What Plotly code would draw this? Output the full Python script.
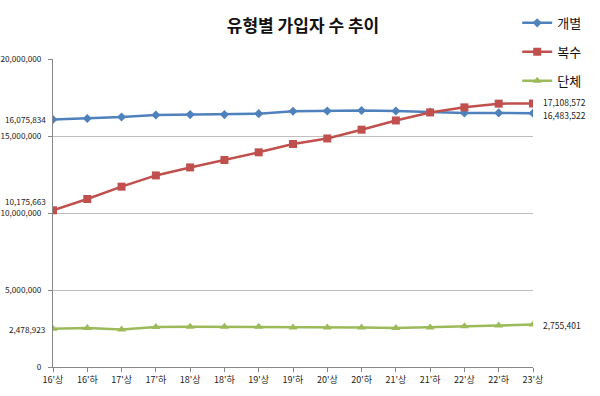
import plotly.graph_objects as go

categories = ["16'상", "16'하", "17'상", "17'하", "18'상", "18'하", "19'상", "19'하",
              "20'상", "20'하", "21'상", "21'하", "22'상", "22'하", "23'상"]
individual = [16075834, 16140000, 16230000, 16360000, 16390000, 16390000, 16450000, 16610000,
              16620000, 16660000, 16620000, 16560000, 16500000, 16500000, 16483522]
multiple = [10175663, 10910000, 11710000, 12440000, 12960000, 13440000, 13940000, 14480000,
            14840000, 15410000, 16010000, 16530000, 16860000, 17100000, 17108572]
group = [2478923, 2540000, 2430000, 2600000, 2610000, 2610000, 2610000, 2570000,
         2570000, 2570000, 2530000, 2570000, 2650000, 2690000, 2755401]
series_names = ["개별", "복수", "단체"]
y_ticks = [0, 5000000, 10000000, 15000000, 20000000]

FONT = "Noto Sans CJK KR"
colors = ["#4F81BD", "#C0504D", "#9BBB59"]
symbols = ["diamond", "square", "triangle-up"]
sizes = [7, 8, 8]

fig = go.Figure()
for i, (name, vals) in enumerate(zip(series_names, [individual, multiple, group])):
    fig.add_trace(go.Scatter(
        x=list(range(len(categories))), y=vals, name=name, mode="lines+markers",
        legendgroup=name,
        line=dict(color=colors[i], width=2.5),
        marker=dict(symbol=symbols[i], size=sizes[i], color=colors[i]),
    ))

# data labels for first and last points
for vals, ys_first, ys_last in [(individual, 0, -2), (multiple, 9, 2), (group, 0, 0)]:
    fig.add_annotation(x=0, y=vals[0], xref="x", yref="y", text=f"{vals[0]:,}",
                       showarrow=False, xanchor="right", xshift=-5, yshift=ys_first,
                       font=dict(family=FONT, size=8.2, color="#222"))
    fig.add_annotation(x=len(categories) - 1, y=vals[-1], xref="x", yref="y",
                       text=f"{vals[-1]:,}", showarrow=False, xanchor="left",
                       xshift=8, yshift=ys_last,
                       font=dict(family=FONT, size=8.5, color="#222"))

fig.update_layout(
    width=600, height=396,
    margin=dict(l=53, r=67, t=59, b=29, autoexpand=False),
    paper_bgcolor="white", plot_bgcolor="white",
    title=dict(text="<b>유형별 가입자 수 추이</b>", x=0.505, xanchor="center",
               y=0.935, yanchor="middle",
               font=dict(family=FONT, size=17, color="#111")),
    font=dict(family=FONT, size=9, color="#222"),
    legend=dict(xref="container", yref="container", x=0.862, xanchor="left",
                y=0.98, yanchor="top",
                font=dict(family=FONT, size=13, color="#111"),
                tracegroupgap=9, itemwidth=30, bgcolor="rgba(0,0,0,0)"),
    xaxis=dict(
        tickmode="array", tickvals=list(range(len(categories))), ticktext=categories,
        range=[0, len(categories) - 1], showgrid=False, zeroline=False,
        showline=True, linecolor="#868686", linewidth=1,
        ticks="outside", ticklen=4, tickcolor="#868686",
        tickfont=dict(family=FONT, size=9, color="#222"),
    ),
    yaxis=dict(
        range=[0, 20000000], tickmode="array", tickvals=y_ticks,
        ticktext=[f"{v:,}" for v in y_ticks],
        showgrid=True, gridcolor="#BFBFBF", gridwidth=1, zeroline=False,
        showline=True, linecolor="#868686", linewidth=1,
        ticks="outside", ticklen=4, tickcolor="#868686",
        tickfont=dict(family=FONT, size=8.2, color="#222"),
        ticklabelstandoff=5,
    ),
)

fig.write_html("out.html", config={"displayModeBar": False},
               post_script="document.body.style.margin='0px';")
